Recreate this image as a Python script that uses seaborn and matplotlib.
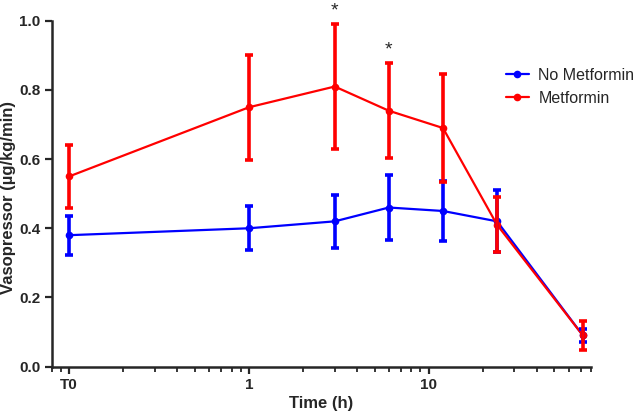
import matplotlib
matplotlib.use("Agg")
import matplotlib.pyplot as plt
import matplotlib.ticker as mticker
import seaborn as sns
import pandas as pd
import numpy as np

# ── Data ────────────────────────────────────────────────────
time_h = [0.1, 1, 3, 6, 12, 24, 72]          # 0.1 is shown as "T0"
no_met_mean = [0.38, 0.40, 0.42, 0.46, 0.45, 0.42, 0.09]
no_met_err = [0.056, 0.064, 0.076, 0.093, 0.087, 0.09, 0.019]
met_mean = [0.55, 0.75, 0.81, 0.74, 0.69, 0.41, 0.09]
met_err = [0.092, 0.152, 0.181, 0.138, 0.156, 0.08, 0.042]
star_times = [3, 6]
star_y = [1.028, 0.915]

df = pd.DataFrame({
    'Time': time_h * 2,
    'Vaso': no_met_mean + met_mean,
    'Group': ['No Metformin'] * len(time_h) + ['Metformin'] * len(time_h),
})
palette = {'No Metformin': '#0000ff', 'Metformin': '#ff0000'}

sns.set_theme(style="ticks")
plt.rcParams['font.family'] = ['Liberation Sans', 'DejaVu Sans']

fig = plt.figure(figsize=(6.39, 4.17), dpi=100)
ax = fig.add_axes([0.081, 0.121, 0.844, 0.829])

sns.lineplot(data=df, x='Time', y='Vaso', hue='Group', palette=palette,
             marker='o', markersize=5.5, markeredgewidth=0, linewidth=1.6,
             ax=ax, errorbar=None, hue_order=['No Metformin', 'Metformin'])

ax.errorbar(time_h, no_met_mean, yerr=no_met_err, fmt='none',
            ecolor=palette['No Metformin'], elinewidth=2.6, capsize=3, capthick=2.6)
ax.errorbar(time_h, met_mean, yerr=met_err, fmt='none',
            ecolor=palette['Metformin'], elinewidth=2.6, capsize=3, capthick=2.6)

for t, y in zip(star_times, star_y):
    ax.text(t, y, '*', ha='center', va='center', fontsize=14, clip_on=False)

ax.set_xscale('log')
ax.set_xlim(0.08, 80)
ax.set_ylim(0, 1.0)
ax.set_xticks([0.1, 1, 10])
ax.set_xticklabels(['T0', '1', '10'])
ax.xaxis.set_minor_locator(mticker.LogLocator(base=10, subs=np.arange(2, 10)))
ax.xaxis.set_minor_formatter(mticker.NullFormatter())
ax.set_yticks(np.arange(0, 1.01, 0.2))
ax.yaxis.set_major_formatter(mticker.FormatStrFormatter('%.1f'))

ax.set_xlabel('Time (h)', fontsize=12, fontweight='bold', labelpad=3)
ax.set_ylabel('Vasopressor (µg/kg/min)', fontsize=12, fontweight='bold')
ax.yaxis.set_label_coords(-0.066, 0.488)
for lab in ax.get_xticklabels() + ax.get_yticklabels():
    lab.set_fontweight('bold')
    lab.set_fontsize(11)

ax.tick_params(axis='both', which='major', length=5, width=1.6, direction='out', pad=3)
ax.tick_params(axis='x', which='minor', length=3.5, width=1.3)
for s in ['left', 'bottom']:
    ax.spines[s].set_linewidth(1.8)
sns.despine(ax=ax)

leg = ax.legend(loc='upper left', bbox_to_anchor=(0.815, 0.905), frameon=False,
                fontsize=11.5, handlelength=1.45, handletextpad=0.6, title=None)

fig.savefig('out.png', dpi=100)
